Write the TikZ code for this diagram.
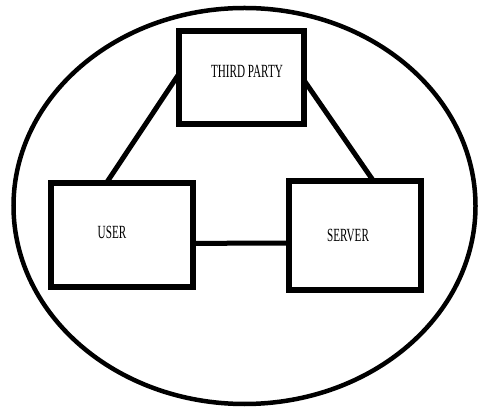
\documentclass[tikz,border=0pt]{standalone}
\usepackage{fontspec}
\setmainfont{Liberation Serif}
\usetikzlibrary{calc,shapes.geometric}
\begin{document}
\begin{tikzpicture}[x=1pt,y=1pt,
  box/.style={draw,line width=6pt,rectangle,outer sep=0pt,inner sep=0pt},
  lbl/.style={font=\fontsize{18.6}{20}\selectfont,inner sep=0pt},
  conn/.style={line width=5pt,line cap=round}]
\useasboundingbox (0,0) rectangle (478,406);
\node[draw,line width=4.5pt,ellipse,minimum width=462pt,minimum height=396pt,inner sep=0pt,outer sep=0pt] (env) at (244.5,200) {};
\node[box,minimum width=125pt,minimum height=93pt] (tp) at (241.5,328.5) {};
\node[box,minimum width=142pt,minimum height=104pt] (user) at (122,171) {};
\node[box,minimum width=132pt,minimum height=109pt] (server) at (355,170.5) {};
\node[lbl] (tpl) at (247,335) {\scalebox{0.6}[1]{THIRD PARTY}};
\node[lbl] (userl) at (112,174) {\scalebox{0.6}[1]{USER}};
\node[lbl] (serverl) at (348,171) {\scalebox{0.6}[1]{SERVER}};
\draw[conn] ($(tp.north west)!0.46!(tp.south west)$) -- ($(user.north west)!0.39!(user.north east)$);
\draw[conn] ($(tp.north east)!0.53!(tp.south east)$) -- ($(server.north west)!0.64!(server.north east)$);
\draw[conn] ($(user.north east)!0.58!(user.south east)$) -- ($(server.north west)!0.57!(server.south west)$);
\end{tikzpicture}
\end{document}
